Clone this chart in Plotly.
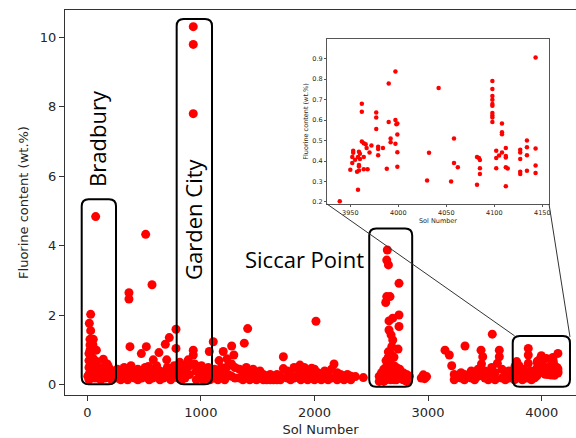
import plotly.graph_objects as go

# ---------------- data ----------------
bradbury_sol = [74, 30, 18, 30, 24, 53, 24, 50, 24, 80, 141, 83, 185, 200,
                15, 15, 15, 15, 15, 35, 35, 35, 35, 55, 55, 55, 90, 90, 110,
                130, 130, 160, 160, 175, 175, 200, 215, 5, 45, 65, 120, 150, 230]
bradbury_f = [4.84, 2.03, 1.77, 1.56, 1.31, 1.31, 1.15, 1.15, 1.0, 1.0, 0.74, 0.67, 0.53, 0.3,
              0.9, 0.7, 0.5, 0.3, 0.15, 0.85, 0.6, 0.4, 0.2, 0.75, 0.5, 0.3, 0.45, 0.2, 0.35,
              0.5, 0.25, 0.4, 0.2, 0.6, 0.3, 0.45, 0.15, 0.25, 0.55, 0.2, 0.15, 0.35, 0.25]

early_sol = [367, 367, 514, 570, 376, 520, 476, 631, 687, 722, 781, 581, 699, 781, 537,
             265, 265, 295, 295, 325, 325, 355, 355, 385, 385, 415, 415, 445, 445,
             480, 480, 510, 510, 545, 545, 575, 575, 610, 610, 640, 640, 670, 670,
             705, 705, 735, 735, 765, 765]
early_f = [2.65, 2.47, 4.33, 2.88, 1.1, 1.1, 0.9, 0.93, 1.17, 1.36, 1.6, 0.72, 0.72, 1.05, 0.53,
           0.45, 0.2, 0.3, 0.15, 0.5, 0.25, 0.4, 0.15, 0.55, 0.3, 0.35, 0.2, 0.45, 0.15,
           0.3, 0.2, 0.5, 0.25, 0.35, 0.15, 0.45, 0.2, 0.55, 0.3, 0.4, 0.15, 0.3, 0.2,
           0.5, 0.25, 0.4, 0.15, 0.55, 0.3]

garden_sol = [933, 933, 933, 933, 933, 889,
              800, 800, 830, 830, 860, 860, 900, 900, 960, 960, 990, 990,
              1020, 1020, 1050, 1050, 1080, 1080, 815, 875, 945, 1005, 1065]
garden_f = [10.3, 9.79, 7.8, 1.0, 0.86, 0.72,
            0.5, 0.2, 0.35, 0.15, 0.45, 0.2, 0.55, 0.3, 0.4, 0.15, 0.5, 0.25,
            0.35, 0.15, 0.45, 0.2, 0.3, 0.15, 0.65, 0.6, 0.6, 0.55, 0.5]

post_garden_sol = [1109, 1074, 1197, 1271, 1290,
                   1120, 1120, 1150, 1150, 1180, 1180, 1210, 1210, 1240, 1240,
                   1270, 1270, 1300, 1300, 1160, 1230]
post_garden_f = [1.24, 0.96, 0.96, 1.12, 0.86,
                 0.45, 0.2, 0.35, 0.15, 0.5, 0.25, 0.4, 0.15, 0.55, 0.3,
                 0.6, 0.25, 0.5, 0.2, 0.7, 0.75]

mid_sol = [1412, 1382, 1726, 2013, 2172, 2360, 2430, 1726, 1872, 1975,
           1340, 1340, 1370, 1370, 1400, 1400, 1430, 1430, 1460, 1460, 1490, 1490,
           1520, 1520, 1550, 1550, 1580, 1580, 1610, 1610, 1640, 1640, 1670, 1670,
           1700, 1700, 1760, 1760, 1790, 1790, 1820, 1820, 1850, 1850, 1880, 1880,
           1910, 1910, 1940, 1940, 1970, 1970, 2000, 2000, 2030, 2030, 2060, 2060,
           2090, 2090, 2120, 2120, 2150, 2150, 2200, 2200, 2230, 2230, 2260, 2260,
           2290, 2290, 2320, 2320]
mid_f = [1.62, 1.2, 0.81, 1.83, 0.6, 0.24, 0.21, 0.47, 0.57, 0.48,
         0.45, 0.2, 0.35, 0.15, 0.5, 0.25, 0.4, 0.15, 0.45, 0.2, 0.3, 0.15,
         0.4, 0.2, 0.3, 0.15, 0.25, 0.15, 0.3, 0.15, 0.25, 0.15, 0.3, 0.15,
         0.25, 0.15, 0.4, 0.2, 0.3, 0.15, 0.5, 0.2, 0.45, 0.25, 0.35, 0.15,
         0.5, 0.2, 0.4, 0.15, 0.3, 0.2, 0.45, 0.15, 0.35, 0.2, 0.3, 0.15,
         0.4, 0.2, 0.35, 0.15, 0.45, 0.2, 0.35, 0.15, 0.3, 0.2, 0.25, 0.15,
         0.3, 0.2, 0.25, 0.15]

siccar_sol = [2641, 2636, 2651, 2744, 2636, 2665, 2627, 2744, 2689, 2656, 2744, 2656,
              2674, 2689, 2680, 2736,
              2650, 2650, 2650, 2650, 2650, 2650, 2670, 2670, 2670, 2670, 2670, 2670,
              2630, 2630, 2630, 2630, 2610, 2610, 2610, 2700, 2700, 2700, 2700,
              2590, 2590, 2570, 2570, 2720, 2720, 2720, 2750, 2750, 2780, 2780,
              2810, 2810, 2835]
siccar_f = [3.88, 3.59, 3.45, 2.92, 2.54, 2.54, 2.37, 2.01, 1.92, 1.84, 1.68, 1.58,
            1.44, 1.29, 1.1, 1.03,
            0.95, 0.8, 0.65, 0.5, 0.35, 0.2, 0.9, 0.75, 0.6, 0.45, 0.3, 0.15,
            0.7, 0.5, 0.3, 0.15, 0.45, 0.25, 0.1, 0.8, 0.55, 0.35, 0.15,
            0.35, 0.15, 0.25, 0.1, 0.5, 0.3, 0.15, 0.45, 0.2, 0.35, 0.15,
            0.3, 0.1, 0.25]

late_sol = [2940, 2958, 2970, 2987, 3149, 3187, 3208, 3325, 3466, 3481, 3565, 3627, 3627, 3610,
            3230, 3230, 3260, 3290, 3290, 3320, 3320, 3350, 3380, 3380, 3410, 3410,
            3440, 3440, 3470, 3470, 3500, 3500, 3530, 3530, 3560, 3560, 3590, 3590,
            3650, 3650, 3680, 3680, 3710, 3710, 3740]
late_f = [0.2, 0.29, 0.18, 0.24, 1.0, 0.86, 0.55, 1.12, 1.0, 0.81, 1.46, 1.0, 0.81, 0.62,
          0.3, 0.15, 0.25, 0.35, 0.2, 0.3, 0.15, 0.25, 0.4, 0.2, 0.3, 0.15,
          0.45, 0.25, 0.6, 0.3, 0.4, 0.2, 0.3, 0.15, 0.5, 0.25, 0.35, 0.15,
          0.45, 0.2, 0.3, 0.15, 0.4, 0.2, 0.3]

recent_sol = [3882, 3882, 3882, 3780, 3765, 3770, 3800, 3820, 3840, 3860, 3900, 3920,
              3800, 3760, 3790, 3830, 3870, 3910]
recent_f = [1.05, 0.86, 0.62, 0.67, 0.53, 0.3, 0.35, 0.25, 0.45, 0.3, 0.4, 0.3,
            0.55, 0.15, 0.2, 0.15, 0.2, 0.15]

inset_sol = [3939, 3950, 3953, 3953, 3952, 3952, 3955, 3958, 3957, 3959,
             3958, 3960, 3959, 3960, 3959, 3959, 3962, 3962, 3962, 3964,
             3966, 3964, 3964, 3967, 3968, 3970, 3972, 3977, 3977, 3977,
             3979, 3979, 3979, 3984, 3988, 3990, 3990, 3992, 3992, 3997,
             3997, 3998, 3999, 3997, 3999, 3999, 3999, 4030, 4032, 4042,
             4055, 4058, 4058, 4062, 4082, 4082, 4084, 4085, 4085, 4085,
             4098, 4098, 4098, 4098, 4098, 4098, 4098, 4098, 4098, 4098,
             4102, 4102, 4102, 4105, 4108, 4108, 4108, 4108, 4112, 4112,
             4112, 4112, 4114, 4112, 4127, 4127, 4127, 4127, 4127, 4134,
             4134, 4134, 4134, 4143, 4143, 4143, 4143]
inset_f = [0.203, 0.357, 0.45, 0.44, 0.42, 0.39, 0.406, 0.26, 0.348, 0.354,
           0.42, 0.41, 0.445, 0.436, 0.38, 0.374, 0.68, 0.64, 0.495, 0.487,
           0.482, 0.42, 0.36, 0.463, 0.36, 0.442, 0.476, 0.637, 0.613, 0.556,
           0.47, 0.459, 0.428, 0.464, 0.362, 0.778, 0.59, 0.51, 0.492, 0.837,
           0.6, 0.58, 0.583, 0.484, 0.53, 0.443, 0.372, 0.305, 0.44, 0.757,
           0.3, 0.51, 0.39, 0.37, 0.284, 0.419, 0.415, 0.405, 0.365, 0.337,
           0.791, 0.752, 0.718, 0.699, 0.679, 0.67, 0.634, 0.622, 0.613, 0.59,
           0.45, 0.415, 0.365, 0.427, 0.583, 0.541, 0.531, 0.442, 0.463, 0.425,
           0.417, 0.37, 0.363, 0.277, 0.455, 0.442, 0.41, 0.347, 0.336, 0.5,
           0.467, 0.428, 0.352, 0.905, 0.461, 0.378, 0.341]

x_ticks = [0, 1000, 2000, 3000, 4000]
y_ticks = [0, 2, 4, 6, 8, 10]
inset_x_ticks = [3950, 4000, 4050, 4100, 4150]
inset_y_ticks = [0.2, 0.3, 0.4, 0.5, 0.6, 0.7, 0.8, 0.9]

# ---------------- layout constants ----------------
W, H = 576, 438
ML, MR, MT, MB = 65, 0, 10, 43
X_RANGE = [-196, 4302]
Y_RANGE = [-0.29, 10.78]
INSET_X_RANGE = [3925.7, 4157]
INSET_Y_RANGE = [0.19, 0.996]
INSET_DOM_X = [0.5127, 0.9472]
INSET_DOM_Y = [0.4961, 0.9247]

PW = W - ML - MR
PH = H - MT - MB
sx = (X_RANGE[1] - X_RANGE[0]) / PW
sy = (Y_RANGE[1] - Y_RANGE[0]) / PH


def paper_to_data(px_, py_):
    return (X_RANGE[0] + px_ * (X_RANGE[1] - X_RANGE[0]),
            Y_RANGE[0] + py_ * (Y_RANGE[1] - Y_RANGE[0]))


def rounded_rect(x0, x1, y0, y1, r=7):
    rx, ry = r * sx, r * sy
    return (f"M {x0+rx},{y0} L {x1-rx},{y0} Q {x1},{y0} {x1},{y0+ry} "
            f"L {x1},{y1-ry} Q {x1},{y1} {x1-rx},{y1} L {x0+rx},{y1} "
            f"Q {x0},{y1} {x0},{y1-ry} L {x0},{y0+ry} Q {x0},{y0} {x0+rx},{y0} Z")


main_sol = (bradbury_sol + early_sol + garden_sol + post_garden_sol + mid_sol +
            siccar_sol + late_sol + recent_sol + inset_sol)
main_f = (bradbury_f + early_f + garden_f + post_garden_f + mid_f +
          siccar_f + late_f + recent_f + inset_f)

fig = go.Figure()
fig.add_trace(go.Scatter(x=main_sol, y=main_f, mode="markers",
                         marker=dict(color="#ff0000", size=9, line=dict(width=0)),
                         xaxis="x", yaxis="y", showlegend=False, cliponaxis=True))
fig.add_trace(go.Scatter(x=inset_sol, y=inset_f, mode="markers",
                         marker=dict(color="#ff0000", size=4.5, line=dict(width=0)),
                         xaxis="x2", yaxis="y2", showlegend=False))

boxes = [(-49, 253, 0.02, 5.34), (787, 1098, 0.02, 10.52),
         (2482, 2860, -0.05, 4.50), (3745, 4249, -0.05, 1.41)]
shapes = []
for b in boxes:
    shapes.append(dict(type="path", path=rounded_rect(*b), xref="x", yref="y",
                       line=dict(color="black", width=2), layer="above"))

bl = paper_to_data(INSET_DOM_X[0], INSET_DOM_Y[0])
br = paper_to_data(INSET_DOM_X[1], INSET_DOM_Y[0])
shapes.append(dict(type="line", xref="x", yref="y", x0=bl[0], y0=bl[1], x1=3762, y1=1.41,
                   line=dict(color="#333333", width=1)))
shapes.append(dict(type="line", xref="x", yref="y", x0=br[0], y0=br[1], x1=4249, y1=1.38,
                   line=dict(color="#333333", width=1)))

annotations = [
    dict(text="Bradbury", x=85, y=7.1, xref="x", yref="y", textangle=-90, showarrow=False,
         font=dict(family="Open Sans", size=22, color="black"), xanchor="center", yanchor="middle"),
    dict(text="Garden City", x=930, y=4.77, xref="x", yref="y", textangle=-90, showarrow=False,
         font=dict(family="Open Sans", size=22, color="black"), xanchor="center", yanchor="middle"),
    dict(text="Siccar Point", x=1908, y=3.62, xref="x", yref="y", showarrow=False,
         font=dict(family="Open Sans", size=22, color="black"), xanchor="center", yanchor="middle"),
]

axis_font = dict(family="DejaVu Sans", size=13, color="#262626")
inset_font = dict(family="DejaVu Sans", size=6.5, color="#262626")

fig.update_layout(
    width=W, height=H, margin=dict(l=ML, r=MR, t=MT, b=MB, autoexpand=False),
    paper_bgcolor="white", plot_bgcolor="white",
    shapes=shapes, annotations=annotations,
    xaxis=dict(range=X_RANGE, tickvals=x_ticks, showgrid=False, zeroline=False,
               showline=True, mirror=True, linecolor="#333333", linewidth=1,
               ticks="outside", ticklen=5, tickcolor="#333333", tickfont=axis_font,
               automargin=False,
               title=dict(text="Sol Number", font=axis_font, standoff=6)),
    yaxis=dict(range=Y_RANGE, tickvals=y_ticks, showgrid=False, zeroline=False,
               showline=True, mirror=False, linecolor="#333333", linewidth=1,
               ticks="outside", ticklen=5, tickcolor="#333333", tickfont=axis_font,
               automargin=False,
               title=dict(text="Fluorine content (wt.%)", font=axis_font, standoff=8)),
    xaxis2=dict(domain=INSET_DOM_X, anchor="y2", range=INSET_X_RANGE,
                tickvals=inset_x_ticks, showgrid=False, zeroline=False,
                showline=True, mirror=True, linecolor="#555555", linewidth=1,
                ticks="outside", ticklen=2, tickcolor="#555555", tickfont=inset_font,
                automargin=False,
                title=dict(text="Sol Number", font=inset_font, standoff=2)),
    yaxis2=dict(domain=INSET_DOM_Y, anchor="x2", range=INSET_Y_RANGE,
                tickvals=inset_y_ticks, tickformat=".1f", showgrid=False, zeroline=False,
                showline=True, mirror=True, linecolor="#555555", linewidth=1,
                ticks="outside", ticklen=2, tickcolor="#555555", tickfont=inset_font,
                automargin=False,
                title=dict(text="Fluorine content (wt.%)", font=inset_font, standoff=3)),
)

fig.write_html("out.html", config={"displayModeBar": False},
               post_script="document.body.style.margin='0px';")
